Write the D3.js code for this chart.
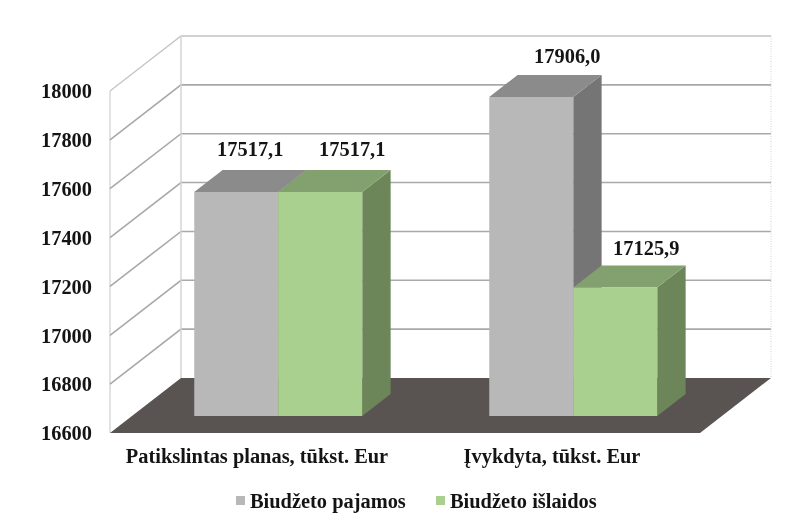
<!DOCTYPE html>
<html>
<head>
<meta charset="utf-8">
<script src="https://cdn.jsdelivr.net/npm/d3@7"></script>
<style>
  html, body { margin: 0; background: #fff; }
  svg { display: block; filter: blur(0.4px); }
  text { font-family: "Liberation Serif", serif; font-weight: bold; fill: #141414; }
</style>
</head>
<body>
<svg id="chart" width="801" height="525"></svg>
<script>
const categories = ['Patikslintas planas, tūkst. Eur', 'Įvykdyta, tūkst. Eur'];
const seriesNames = ['Biudžeto pajamos', 'Biudžeto išlaidos'];
const pajamos = [17517.1, 17906.0];
const islaidos = [17517.1, 17125.9];
const valueLabels = [['17517,1', '17906,0'], ['17517,1', '17125,9']];
const ticks = [16600, 16800, 17000, 17200, 17400, 17600, 17800, 18000];

// hand placed data labels in the original, [dx, dy] from the bar's front top centre
const labelNudge = [[[14, -42.5], [36, -41]], [[32, -42.5], [31, -39]]];

const colours = [
  { front: '#b8b8b8', top: '#8b8b8b', side: '#757575' },
  { front: '#a9d08e', top: '#82a16e', side: '#6c8559' }
];

const fontSize = 20.4;

const svg = d3.select('#chart');

// front plane of the box, and how far the back wall is pushed up and right
const boxLeft = 110, boxRight = 700, boxBottom = 433, boxTop = 91;
const depthX = 71, depthY = 55;
const yMin = ticks[0], yMax = ticks[ticks.length - 1];

const x = d3.scaleBand().domain(d3.range(categories.length)).range([boxLeft, boxRight]);
const inner = d3.scaleBand().domain(d3.range(seriesNames.length))
  .range([0, x.bandwidth()]).paddingOuter(0.756).paddingInner(0).align(0.49);
const y = d3.scaleLinear().domain([yMin, yMax]).range([boxBottom, boxTop]);

// value plane + depth (0 = front, 1 = back wall)
const px = (xv, d) => xv + d * depthX;
const py = (v, d) => y(v) - d * depthY;
const poly = pts => pts.map(p => p.join(',')).join(' ');

// side wall edge
svg.append('line')
  .attr('x1', px(boxLeft, 0)).attr('x2', px(boxLeft, 0))
  .attr('y1', py(yMax, 0)).attr('y2', py(yMin, 0))
  .attr('stroke', '#d9d9d9').attr('stroke-width', 1.5);

// gridlines, side wall then back wall
ticks.slice(1).forEach(t => {
  const last = t === yMax;
  const col = last ? '#c4c4c4' : '#a9a9a9';
  svg.append('path')
    .attr('d', d3.line()([[px(boxLeft, 0), py(t, 0)], [px(boxLeft, 1), py(t, 1)], [px(boxRight, 1), py(t, 1)]]))
    .attr('fill', 'none').attr('stroke', col).attr('stroke-width', last ? 1.3 : 1.6);
});
svg.append('line')
  .attr('x1', px(boxLeft, 1)).attr('x2', px(boxLeft, 1))
  .attr('y1', py(yMax, 1)).attr('y2', py(yMin, 1))
  .attr('stroke', '#d4d4d4').attr('stroke-width', 1.5);
svg.append('line')
  .attr('x1', px(boxRight, 1)).attr('x2', px(boxRight, 1))
  .attr('y1', py(yMax, 1)).attr('y2', py(yMin, 1))
  .attr('stroke', '#d0d0d0').attr('stroke-dasharray', '1 1.5');

// floor
svg.append('polygon')
  .attr('points', poly([[px(boxLeft, 0), py(yMin, 0)], [px(boxRight, 0), py(yMin, 0)], [px(boxRight, 1), py(yMin, 1)], [px(boxLeft, 1), py(yMin, 1)]]))
  .attr('fill', '#595452');

// bars stand between these two depths
const d0 = 0.31, d1 = 0.71;

[pajamos, islaidos].forEach((values, s) => {
  const g = svg.append('g').attr('class', 'series');
  values.forEach((v, c) => {
    const xa = x(c) + inner(s), xb = xa + inner.bandwidth();
    g.append('polygon').attr('fill', colours[s].side)
      .attr('points', poly([[px(xb, d0), py(yMin, d0)], [px(xb, d1), py(yMin, d1)], [px(xb, d1), py(v, d1)], [px(xb, d0), py(v, d0)]]));
    g.append('polygon').attr('fill', colours[s].top)
      .attr('points', poly([[px(xa, d0), py(v, d0)], [px(xb, d0), py(v, d0)], [px(xb, d1), py(v, d1)], [px(xa, d1), py(v, d1)]]));
    g.append('polygon').attr('fill', colours[s].front)
      .attr('points', poly([[px(xa, d0), py(yMin, d0)], [px(xb, d0), py(yMin, d0)], [px(xb, d0), py(v, d0)], [px(xa, d0), py(v, d0)]]));
  });
});

// data labels
[pajamos, islaidos].forEach((values, s) => {
  values.forEach((v, c) => {
    const cx = px(x(c) + inner(s) + inner.bandwidth() / 2, d0);
    svg.append('text')
      .attr('x', cx + labelNudge[s][c][0]).attr('y', py(v, d0) + labelNudge[s][c][1])
      .attr('text-anchor', 'middle').attr('dy', '0.33em')
      .attr('font-size', fontSize)
      .text(valueLabels[s][c]);
  });
});

// y axis labels
svg.selectAll('text.tick').data(ticks).enter().append('text')
  .attr('class', 'tick')
  .attr('x', 92).attr('y', d => y(d) + 0.5).attr('dy', '0.33em')
  .attr('text-anchor', 'end').attr('font-size', fontSize)
  .text(d => d);

// category labels
svg.selectAll('text.cat').data(categories).enter().append('text')
  .attr('class', 'cat')
  .attr('x', (d, i) => x(i) + x.bandwidth() / 2 - 0.5)
  .attr('y', 456).attr('dy', '0.33em')
  .attr('text-anchor', 'middle').attr('font-size', fontSize)
  .text(d => d);

// legend
const legendX = [236, 436];
seriesNames.forEach((name, i) => {
  svg.append('rect').attr('x', legendX[i]).attr('y', 496).attr('width', 9).attr('height', 9)
    .attr('fill', colours[i].front);
  svg.append('text').attr('x', legendX[i] + 14).attr('y', 501).attr('dy', '0.33em')
    .attr('font-size', fontSize).text(name);
});
</script>
</body>
</html>
